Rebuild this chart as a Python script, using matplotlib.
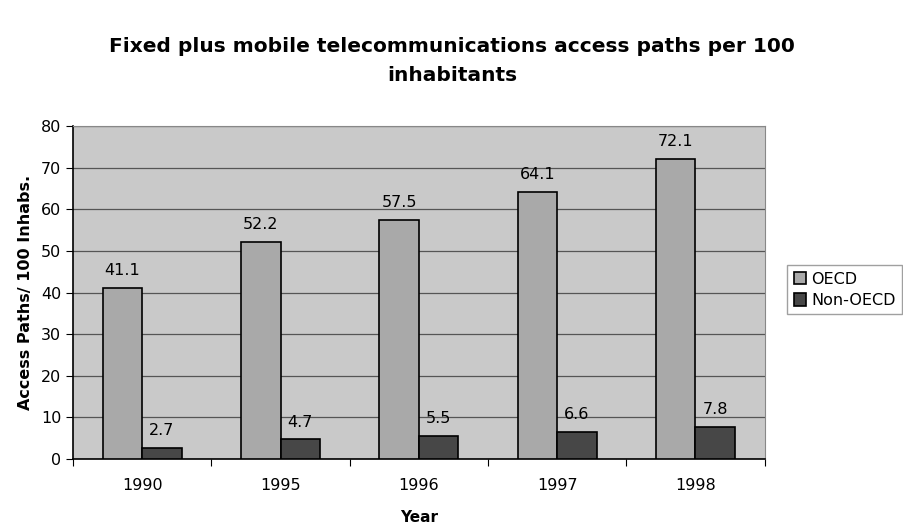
import matplotlib.pyplot as plt
import numpy as np

years = ["1990", "1995", "1996", "1997", "1998"]
oecd = [41.1, 52.2, 57.5, 64.1, 72.1]
non_oecd = [2.7, 4.7, 5.5, 6.6, 7.8]

plt.rcParams["font.family"] = ["DejaVu Sans"]

fig = plt.figure(figsize=(9.04, 5.29), dpi=100)
ax = fig.add_axes([0.0808, 0.1323, 0.765, 0.6295])
ax.set_facecolor("#c9c9c9")

x = np.arange(len(years))
width = 0.285
b1 = ax.bar(x - width / 2, oecd, width, color="#a9a9a9", edgecolor="black",
            linewidth=1.2, label="OECD", zorder=3)
b2 = ax.bar(x + width / 2, non_oecd, width, color="#474747", edgecolor="black",
            linewidth=1.2, label="Non-OECD", zorder=3)

# value labels above each bar
for bars in (b1, b2):
    for rect in bars:
        h = rect.get_height()
        ax.annotate(f"{h:.1f}", (rect.get_x() + rect.get_width() / 2, h),
                    xytext=(0, 7), textcoords="offset points",
                    ha="center", va="bottom", fontsize=11.5)

ax.set_xlim(-0.5, len(years) - 0.5)
ax.set_ylim(0, 80)
ax.set_yticks(range(0, 81, 10))
ax.set_xticks(np.arange(-0.5, len(years), 1.0), minor=False)
ax.set_xticklabels([])
ax.set_xticks(x, minor=True)
ax.set_xticklabels(years, minor=True, fontsize=11.5)
ax.tick_params(axis="x", which="minor", length=0, pad=14)
ax.tick_params(axis="x", which="major", length=5)
ax.tick_params(axis="y", labelsize=11.5, length=5)
ax.yaxis.grid(True, color="#555555", linewidth=0.9, zorder=0)
for side in ("top", "right"):
    ax.spines[side].set_color("#888888")
ax.spines["left"].set_linewidth(1.2)
ax.spines["bottom"].set_linewidth(1.2)

ax.set_xlabel("Year", fontsize=11, fontweight="bold", labelpad=12)
ax.set_ylabel("Access Paths/ 100 Inhabs.", fontsize=11.5, fontweight="bold",
              labelpad=6)

fig.suptitle("Fixed plus mobile telecommunications access paths per 100\ninhabitants",
             x=0.5, y=0.93, fontsize=14.5, fontweight="bold", linespacing=1.65)

fig.legend(handles=[b1, b2], loc="center left", bbox_to_anchor=(0.862, 0.452),
           fontsize=11.5, frameon=True, fancybox=False, edgecolor="#888888",
           handlelength=0.8, handleheight=0.8, handletextpad=0.3,
           borderpad=0.4, labelspacing=0.4)

fig.savefig("out.png", dpi=100)
